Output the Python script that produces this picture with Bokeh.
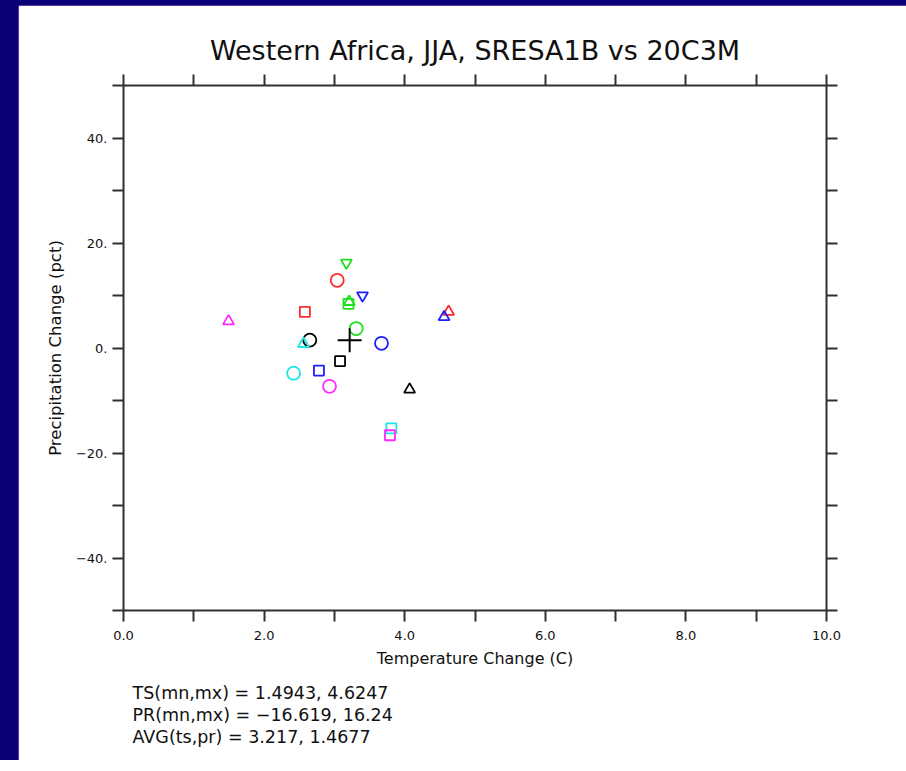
from bokeh.plotting import figure
from bokeh.models import FixedTicker, LinearAxis, Range1d, ColumnDataSource, Title
from bokeh.layouts import row
from bokeh.embed import file_html
from bokeh.resources import INLINE

# ---------------- data ----------------
temp_change = [3.17, 3.04, 3.40, 3.20, 3.21, 2.58, 4.6247, 4.56, 3.31, 2.65,
               2.56, 3.67, 3.08, 2.42, 2.78, 2.93, 4.07, 1.4943, 3.81, 3.79]
precip_change = [16.24, 12.9, 10.0, 8.4, 8.8, 6.9, 6.9, 5.9, 3.7, 1.5,
                 0.8, 0.9, -2.5, -4.8, -4.3, -7.3, -7.9, 5.1, -15.3, -16.619]
model_colors = ["green", "red", "blue", "green", "green", "red", "red", "blue", "green", "black",
                "cyan", "blue", "black", "cyan", "blue", "magenta", "black", "magenta", "cyan", "magenta"]
model_markers = ["inverted_triangle", "circle", "inverted_triangle", "square", "triangle",
                 "square", "triangle", "triangle", "circle", "circle",
                 "triangle", "circle", "square", "circle", "square",
                 "circle", "triangle", "triangle", "square", "square"]
avg_ts = 3.217
avg_pr = 1.4677

x_major = [0, 2, 4, 6, 8, 10]
x_minor = [1, 3, 5, 7, 9]
x_labels = ["0.0", "2.0", "4.0", "6.0", "8.0", "10.0"]
y_major = [-40, -20, 0, 20, 40]
y_minor = [-50, -30, -10, 10, 30, 50]
y_labels = ["\u221240.", "\u221220.", "0.", "20.", "40."]

title_text = "Western Africa, JJA, SRESA1B vs 20C3M"
x_title = "Temperature Change (C)"
y_title = "Precipitation Change (pct)"
stats_lines = ["TS(mn,mx) = 1.4943, 4.6247",
               "PR(mn,mx) = \u221216.619, 16.24",
               "AVG(ts,pr) = 3.217, 1.4677"]

# ---------------- styles ----------------
NAVY = "#0b0078"
AX = "#303030"
FONT = "DejaVu Sans"
TXT = "#111111"
color_map = {"black": "#000000", "red": "#ff2a2a", "green": "#1ee01e", "blue": "#1e1eff",
             "cyan": "#1ee6e6", "magenta": "#ff2aff"}
size_map = {"circle": 13, "square": 10, "triangle": 11, "inverted_triangle": 11}
stats_standoffs = [20, -20, 20]

p = figure(frame_width=703, frame_height=525,
           x_range=Range1d(0, 10), y_range=Range1d(-50, 50),
           x_axis_location=None, y_axis_location=None,
           output_backend="svg", toolbar_location=None,
           min_border_left=105, min_border_top=80, min_border_right=80, min_border_bottom=150,
           background_fill_color="white", border_fill_color="white",
           outline_line_color=None)
p.grid.visible = False
p.margin = (13, 0, 0, 26)


def make_axis(major, minor, labels, show):
    ax = LinearAxis(ticker=FixedTicker(ticks=major, minor_ticks=minor),
                    major_tick_in=0, major_tick_out=11, minor_tick_in=0, minor_tick_out=11,
                    axis_line_color=AX, axis_line_width=2,
                    major_tick_line_color=AX, major_tick_line_width=2,
                    minor_tick_line_color=AX, minor_tick_line_width=2,
                    major_label_text_font=FONT, major_label_text_color=TXT,
                    major_label_text_font_size="13px",
                    axis_label_text_font=FONT, axis_label_text_font_style="normal",
                    axis_label_text_font_size="16px", axis_label_text_color=TXT)
    if show:
        ax.major_label_overrides = {v: s for v, s in zip(major, labels)}
    else:
        ax.major_label_overrides = {v: "" for v in major}
        ax.major_label_text_font_size = "0px"
        ax.major_label_standoff = 0
    return ax


bottom = make_axis(x_major, x_minor, x_labels, True)
bottom.major_label_standoff = 9
bottom.axis_label = x_title
bottom.axis_label_standoff = 6
top = make_axis(x_major, x_minor, x_labels, False)
left = make_axis(y_major, y_minor, y_labels, True)
left.major_label_standoff = 5
left.axis_label = y_title
left.axis_label_standoff = 8
left.axis_label_text_font_size = "16.5px"
right = make_axis(y_major, y_minor, y_labels, False)
p.add_layout(bottom, "below")
p.add_layout(top, "above")
p.add_layout(left, "left")
p.add_layout(right, "right")

p.title.text = title_text
p.title.align = "center"
p.title.text_font = FONT
p.title.text_font_style = "normal"
p.title.text_font_size = "27px"
p.title.text_color = TXT
p.title.standoff = 18

for line, so in zip(stats_lines, stats_standoffs):
    p.add_layout(Title(text=line, align="left", offset=9,
                       text_font=FONT, text_font_style="normal", text_font_size="17.5px",
                       text_color=TXT, standoff=so), "below")

src = ColumnDataSource(dict(
    x=temp_change, y=precip_change,
    marker=model_markers,
    color=[color_map[c] for c in model_colors],
    size=[size_map[m] for m in model_markers],
))
p.scatter("x", "y", source=src, marker="marker", size="size",
          line_color="color", fill_alpha=0, line_width=1.8)
p.scatter([avg_ts], [avg_pr], marker="cross", size=24, line_color="#000000", line_width=2)

layout = row(p, margin=(-8, -8, -8, -8), styles={"background-color": NAVY})

open("out.html", "w").write(file_html(layout, INLINE))
